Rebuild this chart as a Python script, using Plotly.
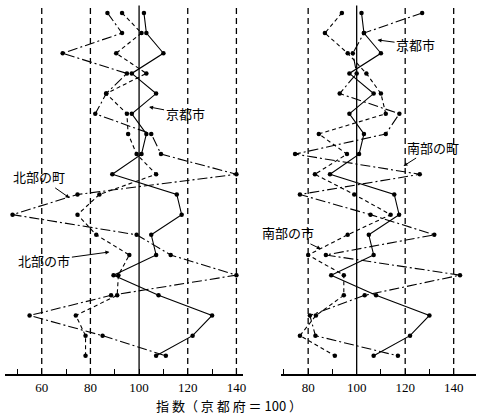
import plotly.graph_objects as go

# Rows (18 items, top to bottom)
rows = list(range(18))

# Left panel (北部)
kyoto_city = [102, 103, 110, 97, 107, 97, 103, 101, 89, 115.5, 117.5, 105, 107, 89.5, 108, 130, 122, 107]
hokubu_machi = [87, 93, 68.6, 95, 86.5, 82, 105, 109, 140, 74.7, 48, 99, 113, 140, 88.5, 55, 85, 111]
hokubu_shi = [93, 101, 90.6, 103, 86.5, 95, 95.5, 99, 107, 83.7, 74.7, 82.4, 96, 91.5, 91, 74, 78, 78]

# Right panel (南部)
nanbu_machi = [127, 103, 98.4, 100, 93, 117.6, 112, 74.6, 126, 76.6, 105.7, 132, 87.3, 142.6, 103.3, 80.7, 83, 117]
nanbu_shi = [93.9, 86.9, 96.3, 104, 110, 112, 84.4, 96, 82.8, 99, 114, 96.3, 80, 94.7, 94.7, 83.2, 76.6, 91]

left_ticks = [50, 60, 70, 80, 90, 100, 110, 120, 130, 140]
left_labels = ["", "60", "", "80", "", "100", "", "120", "", "140"]
right_ticks = [70, 80, 90, 100, 110, 120, 130, 140]
right_labels = ["", "80", "", "100", "", "120", "", "140"]
left_guides = [60, 80, 120, 140]
right_guides = [80, 120, 140]

serif = "Liberation Serif, DejaVu Serif, serif"
cjk = "Noto Sans CJK JP, Noto Sans CJK SC, sans-serif"

fig = go.Figure()

def add(xvals, dash, xa):
    fig.add_trace(go.Scatter(
        x=xvals, y=rows, mode="lines+markers", xaxis=xa, yaxis="y",
        line=dict(color="black", width=1.1, dash=dash),
        marker=dict(color="black", size=4.5, symbol="circle"),
        showlegend=False, hoverinfo="skip"))

add(kyoto_city, "solid", "x")
add(hokubu_machi, "10px,3px,2px,3px", "x")
add(hokubu_shi, "4px,3px", "x")
add(kyoto_city, "solid", "x2")
add(nanbu_machi, "10px,3px,2px,3px", "x2")
add(nanbu_shi, "4px,3px", "x2")

shapes = []
for v in left_guides:
    shapes.append(dict(type="line", xref="x", yref="paper", x0=v, x1=v, y0=0, y1=0.985,
                       line=dict(color="black", width=1.3, dash="6px,4px")))
for v in right_guides:
    shapes.append(dict(type="line", xref="x2", yref="paper", x0=v, x1=v, y0=0, y1=0.985,
                       line=dict(color="black", width=1.3, dash="6px,4px")))
for xr in ["x", "x2"]:
    shapes.append(dict(type="line", xref=xr, yref="paper", x0=100, x1=100, y0=0, y1=0.985,
                       line=dict(color="black", width=1.3)))

axis_common = dict(showgrid=False, zeroline=False, showline=True, linecolor="black", linewidth=2,
                   ticks="inside", ticklen=5, tickwidth=1.2, tickcolor="black",
                   tickfont=dict(family=serif, size=13, color="black"), anchor="y")

fig.update_layout(
    width=479, height=415,
    margin=dict(l=5, r=0, t=0, b=41),
    paper_bgcolor="white", plot_bgcolor="white",
    xaxis=dict(domain=[0, 0.5063], range=[44.9, 142.9], tickmode="array",
               tickvals=left_ticks, ticktext=left_labels, **axis_common),
    xaxis2=dict(domain=[0.5865, 1], range=[68.9, 149.2], tickmode="array",
                tickvals=right_ticks, ticktext=right_labels, **axis_common),
    yaxis=dict(range=[17.9, -0.64], visible=False),
    shapes=shapes,
)

def ann(text, xref, x, y, ax, ay):
    fig.add_annotation(text=text, xref=xref, yref="y", x=x, y=y, ax=ax, ay=ay,
                       showarrow=True, arrowhead=2, arrowsize=0.8, arrowwidth=1,
                       arrowcolor="black", font=dict(family=cjk, size=13, color="black"),
                       bgcolor="rgba(255,255,255,0)")

# positions of labels (text offsets in pixels)
ann("京都市", "x", 104.1, 4.66, 36, 7)
ann("北部の町", "x", 71.4, 9.17, -30, -21)
ann("北部の市", "x", 87.8, 11.85, -65, 9)
ann("京都市", "x2", 108.6, 1.34, 38, 5)
ann("南部の町", "x2", 119.3, 7.59, 30, -19)
ann("南部の市", "x2", 85.2, 11.7, -33, -16)

fig.add_annotation(text="指 数（ 京 都 府 ＝ 100 ）", xref="paper", yref="paper",
                   x=(230 - 5) / 474, y=-0.085, showarrow=False, yanchor="middle",
                   font=dict(family=cjk, size=13, color="black"))

fig.write_html("out.html")
